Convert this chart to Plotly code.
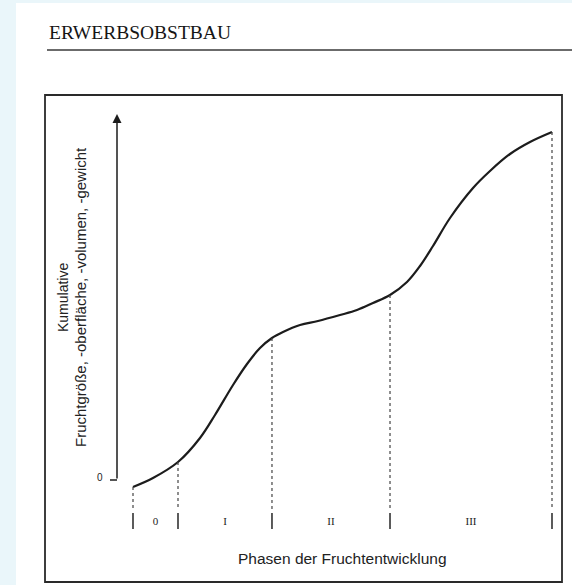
import numpy as np
import plotly.graph_objects as go

# ---------------- data ----------------
# time axis: relative fruit-development time (0 = bloom, 100 = harvest)
time_rel = [0, 4.77, 10.74, 15.99, 19.57, 23.87, 27.21, 30.31, 33.17,
            35.80, 39.86, 44.15, 49.40, 53.46, 57.28, 61.34, 65.39, 68.50,
            71.60, 75.66, 81.15, 85.20, 89.98, 94.75, 100]
# cumulative fruit size (relative units)
cum_size = [0.28, 2.79, 7.26, 13.97, 20.39, 28.77, 34.64, 39.11, 41.90,
            43.58, 45.53, 46.65, 48.32, 49.72, 51.68, 53.91, 57.54, 62.01,
            67.60, 75.42, 83.80, 88.55, 93.30, 96.65, 99.44]
phase_bounds = [0, 10.74, 33.17, 61.34, 100]
phase_labels = ["0", "I", "II", "III"]

title_text = "ERWERBSOBSTBAU"
ylabel_1 = "Kumulative"
ylabel_2 = "Fruchtgröße, -oberfläche, -volumen, -gewicht"
xlabel = "Phasen der Fruchtentwicklung"

# ---------------- layout geometry ----------------
W, H = 572, 585
X0_PX, XS = 133.0, 4.19   # pixel of x=0, pixels per unit
Y0_PX, YS = 488.0, 3.58   # pixel of y=0, pixels per unit


def px(xp):
    return xp / W


def py(yp):
    return 1 - yp / H


def dx(xp):
    return (xp - X0_PX) / XS


def dy(yp):
    return (Y0_PX - yp) / YS


ink = "#1c1c1c"
fig = go.Figure()

# main curve
fig.add_trace(go.Scatter(
    x=time_rel, y=cum_size, mode="lines",
    line=dict(color=ink, width=2.2, shape="spline", smoothing=1.0),
    hoverinfo="skip", showlegend=False))

# dashed phase boundaries
dash_x, dash_y, tick_x, tick_y = [], [], [], []
for b in phase_bounds:
    top = float(np.interp(b, time_rel, cum_size))
    dash_x += [b, b, None]
    dash_y += [top, dy(510), None]
    tick_x += [b, b, None]
    tick_y += [dy(513), dy(529), None]
fig.add_trace(go.Scatter(
    x=dash_x, y=dash_y, mode="lines",
    line=dict(color="#444", width=1.2, dash="3px,3px"),
    hoverinfo="skip", showlegend=False))
fig.add_trace(go.Scatter(
    x=tick_x, y=tick_y, mode="lines",
    line=dict(color="#333", width=1.6),
    hoverinfo="skip", showlegend=False))

# phase labels
mids = [(phase_bounds[i] + phase_bounds[i + 1]) / 2 for i in range(len(phase_labels))]
fig.add_trace(go.Scatter(
    x=mids, y=[dy(522)] * len(mids), mode="text", text=phase_labels,
    textfont=dict(family="Liberation Serif", size=11, color="#222"),
    hoverinfo="skip", showlegend=False))

shapes = []
# page background (white sheet on light-blue scan border)
shapes.append(dict(type="rect", xref="paper", yref="paper",
                   x0=px(16), x1=px(W), y0=py(H), y1=py(3),
                   fillcolor="white", line=dict(width=0), layer="below"))
# rule under title
shapes.append(dict(type="line", xref="paper", yref="paper",
                   x0=px(47), x1=px(W), y0=py(50), y1=py(50),
                   line=dict(color="#3a3a3a", width=1.6)))
# frame
shapes.append(dict(type="rect", xref="paper", yref="paper",
                   x0=px(45), x1=px(562), y0=py(582), y1=py(95),
                   line=dict(color="#2a2a2a", width=1.8)))
# small foot of y axis
shapes.append(dict(type="line", xref="x", yref="y",
                   x0=dx(110), x1=dx(117), y0=dy(480), y1=dy(480),
                   line=dict(color=ink, width=1.5)))

annotations = []
# y axis arrow
annotations.append(dict(x=dx(117), y=dy(114), ax=dx(117), ay=dy(480),
                        xref="x", yref="y", axref="x", ayref="y",
                        showarrow=True, arrowhead=2, arrowsize=1.2,
                        arrowwidth=1.5, arrowcolor=ink, text=""))
annotations.append(dict(x=px(100), y=py(477), xref="paper", yref="paper",
                        xanchor="center", yanchor="middle",
                        text="0", showarrow=False,
                        font=dict(family="Liberation Sans", size=10, color="#222")))
annotations.append(dict(x=px(47), y=py(32), xref="paper", yref="paper",
                        xanchor="left", yanchor="middle", text=title_text,
                        showarrow=False,
                        font=dict(family="Liberation Serif", size=19.5, color="#151515")))
annotations.append(dict(x=px(63), y=py(298), xref="paper", yref="paper",
                        xanchor="center", yanchor="middle",
                        text=ylabel_1, textangle=-90, showarrow=False,
                        font=dict(family="Liberation Sans", size=14, color="#222")))
annotations.append(dict(x=px(80), y=py(297), xref="paper", yref="paper",
                        xanchor="center", yanchor="middle",
                        text=ylabel_2, textangle=-90, showarrow=False,
                        font=dict(family="Liberation Sans", size=15, color="#222")))
annotations.append(dict(x=px(342), y=py(558), xref="paper", yref="paper",
                        xanchor="center", yanchor="middle",
                        text=xlabel, showarrow=False,
                        font=dict(family="Liberation Sans", size=15.5, color="#222")))

fig.update_layout(
    width=W, height=H,
    margin=dict(l=0, r=0, t=0, b=0, pad=0),
    paper_bgcolor="#eaf6fa", plot_bgcolor="rgba(0,0,0,0)",
    xaxis=dict(range=[dx(0), dx(W)], visible=False, fixedrange=True),
    yaxis=dict(range=[dy(H), dy(0)], visible=False, fixedrange=True),
    shapes=shapes, annotations=annotations, showlegend=False,
)

fig.write_html("out.html",
               config={"displayModeBar": False},
               post_script="document.body.style.margin='0';"
                           "document.body.style.overflow='hidden';")
